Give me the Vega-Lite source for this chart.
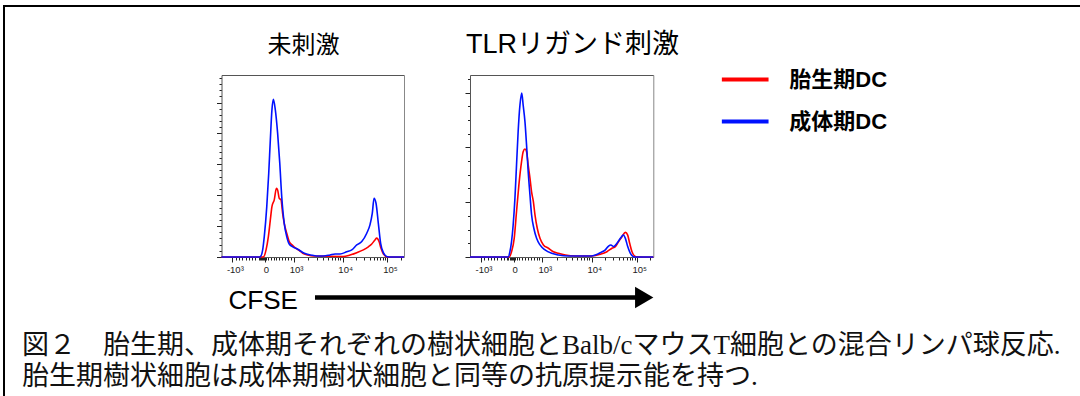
{
  "$schema": "https://vega.github.io/schema/vega-lite/v6.json",
  "width": 1096,
  "height": 416,
  "autosize": "none",
  "padding": {"left": 4, "top": 6, "right": -20, "bottom": -20},
  "background": "white",
  "view": {"stroke": "black", "strokeWidth": 2, "fill": "white"},
  "title": {
    "text": ["図２　胎生期、成体期それぞれの樹状細胞とBalb/cマウスT細胞との混合リンパ球反応.", "胎生期樹状細胞は成体期樹状細胞と同等の抗原提示能を持つ."],
    "orient": "bottom", "anchor": "start", "frame": "group", "offset": -89, "dx": 18,
    "fontSize": 27, "font": "Liberation Serif, Noto Sans CJK JP", "fontWeight": "normal",
    "lineHeight": 31, "color": "#111"
  },
  "datasets": {
    "hist": [
      {"panel":"未刺激","group":"成体期DC","ch":0,"count":0},
      {"panel":"未刺激","group":"成体期DC","ch":212,"count":0},
      {"panel":"未刺激","group":"成体期DC","ch":218,"count":1},
      {"panel":"未刺激","group":"成体期DC","ch":231,"count":23},
      {"panel":"未刺激","group":"成体期DC","ch":240,"count":66},
      {"panel":"未刺激","group":"成体期DC","ch":254,"count":163},
      {"panel":"未刺激","group":"成体期DC","ch":265,"count":271},
      {"panel":"未刺激","group":"成体期DC","ch":274,"count":379},
      {"panel":"未刺激","group":"成体期DC","ch":283,"count":476},
      {"panel":"未刺激","group":"成体期DC","ch":291,"count":510},
      {"panel":"未刺激","group":"成体期DC","ch":302,"count":476},
      {"panel":"未刺激","group":"成体期DC","ch":315,"count":400},
      {"panel":"未刺激","group":"成体期DC","ch":327,"count":303},
      {"panel":"未刺激","group":"成体期DC","ch":338,"count":195},
      {"panel":"未刺激","group":"成体期DC","ch":352,"count":109},
      {"panel":"未刺激","group":"成体期DC","ch":366,"count":66},
      {"panel":"未刺激","group":"成体期DC","ch":380,"count":42},
      {"panel":"未刺激","group":"成体期DC","ch":400,"count":33},
      {"panel":"未刺激","group":"成体期DC","ch":428,"count":25},
      {"panel":"未刺激","group":"成体期DC","ch":465,"count":12},
      {"panel":"未刺激","group":"成体期DC","ch":502,"count":6.5},
      {"panel":"未刺激","group":"成体期DC","ch":534,"count":3.2},
      {"panel":"未刺激","group":"成体期DC","ch":571,"count":3.2},
      {"panel":"未刺激","group":"成体期DC","ch":609,"count":6.5},
      {"panel":"未刺激","group":"成体期DC","ch":637,"count":9.7},
      {"panel":"未刺激","group":"成体期DC","ch":665,"count":9.7},
      {"panel":"未刺激","group":"成体期DC","ch":703,"count":17},
      {"panel":"未刺激","group":"成体期DC","ch":731,"count":23},
      {"panel":"未刺激","group":"成体期DC","ch":759,"count":39},
      {"panel":"未刺激","group":"成体期DC","ch":787,"count":50},
      {"panel":"未刺激","group":"成体期DC","ch":815,"count":77},
      {"panel":"未刺激","group":"成体期DC","ch":833,"count":104},
      {"panel":"未刺激","group":"成体期DC","ch":846,"count":141},
      {"panel":"未刺激","group":"成体期DC","ch":856,"count":190},
      {"panel":"未刺激","group":"成体期DC","ch":867,"count":174},
      {"panel":"未刺激","group":"成体期DC","ch":880,"count":109},
      {"panel":"未刺激","group":"成体期DC","ch":893,"count":44},
      {"panel":"未刺激","group":"成体期DC","ch":908,"count":14},
      {"panel":"未刺激","group":"成体期DC","ch":930,"count":1},
      {"panel":"未刺激","group":"成体期DC","ch":955,"count":0},
      {"panel":"未刺激","group":"成体期DC","ch":1024,"count":0},
      {"panel":"未刺激","group":"胎生期DC","ch":0,"count":0},
      {"panel":"未刺激","group":"胎生期DC","ch":230,"count":0},
      {"panel":"未刺激","group":"胎生期DC","ch":237,"count":1},
      {"panel":"未刺激","group":"胎生期DC","ch":250,"count":23},
      {"panel":"未刺激","group":"胎生期DC","ch":263,"count":66},
      {"panel":"未刺激","group":"胎生期DC","ch":274,"count":120},
      {"panel":"未刺激","group":"胎生期DC","ch":283,"count":163},
      {"panel":"未刺激","group":"胎生期DC","ch":296,"count":185},
      {"panel":"未刺激","group":"胎生期DC","ch":308,"count":222},
      {"panel":"未刺激","group":"胎生期DC","ch":315,"count":217},
      {"panel":"未刺激","group":"胎生期DC","ch":324,"count":190},
      {"panel":"未刺激","group":"胎生期DC","ch":334,"count":185},
      {"panel":"未刺激","group":"胎生期DC","ch":343,"count":141},
      {"panel":"未刺激","group":"胎生期DC","ch":352,"count":109},
      {"panel":"未刺激","group":"胎生期DC","ch":366,"count":77},
      {"panel":"未刺激","group":"胎生期DC","ch":380,"count":50},
      {"panel":"未刺激","group":"胎生期DC","ch":400,"count":37},
      {"panel":"未刺激","group":"胎生期DC","ch":418,"count":28},
      {"panel":"未刺激","group":"胎生期DC","ch":437,"count":21},
      {"panel":"未刺激","group":"胎生期DC","ch":456,"count":12},
      {"panel":"未刺激","group":"胎生期DC","ch":484,"count":6.5},
      {"panel":"未刺激","group":"胎生期DC","ch":515,"count":3.2},
      {"panel":"未刺激","group":"胎生期DC","ch":682,"count":1.6},
      {"panel":"未刺激","group":"胎生期DC","ch":721,"count":6.5},
      {"panel":"未刺激","group":"胎生期DC","ch":759,"count":14},
      {"panel":"未刺激","group":"胎生期DC","ch":796,"count":23},
      {"panel":"未刺激","group":"胎生期DC","ch":824,"count":33},
      {"panel":"未刺激","group":"胎生期DC","ch":843,"count":42},
      {"panel":"未刺激","group":"胎生期DC","ch":861,"count":55},
      {"panel":"未刺激","group":"胎生期DC","ch":871,"count":61},
      {"panel":"未刺激","group":"胎生期DC","ch":884,"count":50},
      {"panel":"未刺激","group":"胎生期DC","ch":895,"count":28},
      {"panel":"未刺激","group":"胎生期DC","ch":908,"count":10},
      {"panel":"未刺激","group":"胎生期DC","ch":930,"count":0},
      {"panel":"未刺激","group":"胎生期DC","ch":1024,"count":0},
      {"panel":"TLRリガンド刺激","group":"成体期DC","ch":0,"count":0},
      {"panel":"TLRリガンド刺激","group":"成体期DC","ch":213,"count":0},
      {"panel":"TLRリガンド刺激","group":"成体期DC","ch":223,"count":9.7},
      {"panel":"TLRリガンド刺激","group":"成体期DC","ch":232,"count":28},
      {"panel":"TLRリガンド刺激","group":"成体期DC","ch":241,"count":58},
      {"panel":"TLRリガンド刺激","group":"成体期DC","ch":251,"count":107},
      {"panel":"TLRリガンド刺激","group":"成体期DC","ch":260,"count":168},
      {"panel":"TLRリガンド刺激","group":"成体期DC","ch":269,"count":229},
      {"panel":"TLRリガンド刺激","group":"成体期DC","ch":279,"count":277},
      {"panel":"TLRリガンド刺激","group":"成体期DC","ch":289,"count":299},
      {"panel":"TLRリガンド刺激","group":"成体期DC","ch":297,"count":277},
      {"panel":"TLRリガンド刺激","group":"成体期DC","ch":307,"count":247},
      {"panel":"TLRリガンド刺激","group":"成体期DC","ch":316,"count":204},
      {"panel":"TLRリガンド刺激","group":"成体期DC","ch":325,"count":156},
      {"panel":"TLRリガンド刺激","group":"成体期DC","ch":335,"count":113},
      {"panel":"TLRリガンド刺激","group":"成体期DC","ch":344,"count":77},
      {"panel":"TLRリガンド刺激","group":"成体期DC","ch":357,"count":52},
      {"panel":"TLRリガンド刺激","group":"成体期DC","ch":372,"count":34},
      {"panel":"TLRリガンド刺激","group":"成体期DC","ch":391,"count":22},
      {"panel":"TLRリガンド刺激","group":"成体期DC","ch":419,"count":13},
      {"panel":"TLRリガンド刺激","group":"成体期DC","ch":456,"count":6.7},
      {"panel":"TLRリガンド刺激","group":"成体期DC","ch":494,"count":3.6},
      {"panel":"TLRリガンド刺激","group":"成体期DC","ch":550,"count":1.8},
      {"panel":"TLRリガンド刺激","group":"成体期DC","ch":679,"count":1.8},
      {"panel":"TLRリガンド刺激","group":"成体期DC","ch":700,"count":3.6},
      {"panel":"TLRリガンド刺激","group":"成体期DC","ch":728,"count":7.8},
      {"panel":"TLRリガンド刺激","group":"成体期DC","ch":756,"count":13},
      {"panel":"TLRリガンド刺激","group":"成体期DC","ch":774,"count":20},
      {"panel":"TLRリガンド刺激","group":"成体期DC","ch":787,"count":22},
      {"panel":"TLRリガンド刺激","group":"成体期DC","ch":802,"count":19},
      {"panel":"TLRリガンド刺激","group":"成体期DC","ch":821,"count":25},
      {"panel":"TLRリガンド刺激","group":"成体期DC","ch":840,"count":34},
      {"panel":"TLRリガンド刺激","group":"成体期DC","ch":857,"count":40},
      {"panel":"TLRリガンド刺激","group":"成体期DC","ch":868,"count":34},
      {"panel":"TLRリガンド刺激","group":"成体期DC","ch":881,"count":19},
      {"panel":"TLRリガンド刺激","group":"成体期DC","ch":896,"count":6.7},
      {"panel":"TLRリガンド刺激","group":"成体期DC","ch":920,"count":0},
      {"panel":"TLRリガンド刺激","group":"成体期DC","ch":1024,"count":0},
      {"panel":"TLRリガンド刺激","group":"胎生期DC","ch":0,"count":0},
      {"panel":"TLRリガンド刺激","group":"胎生期DC","ch":219,"count":0},
      {"panel":"TLRリガンド刺激","group":"胎生期DC","ch":232,"count":9.7},
      {"panel":"TLRリガンド刺激","group":"胎生期DC","ch":247,"count":34},
      {"panel":"TLRリガンド刺激","group":"胎生期DC","ch":260,"count":83},
      {"panel":"TLRリガンド刺激","group":"胎生期DC","ch":273,"count":131},
      {"panel":"TLRリガンド刺激","group":"胎生期DC","ch":288,"count":174},
      {"panel":"TLRリガンド刺激","group":"胎生期DC","ch":297,"count":192},
      {"panel":"TLRリガンド刺激","group":"胎生期DC","ch":307,"count":197},
      {"panel":"TLRリガンド刺激","group":"胎生期DC","ch":316,"count":192},
      {"panel":"TLRリガンド刺激","group":"胎生期DC","ch":325,"count":168},
      {"panel":"TLRリガンド刺激","group":"胎生期DC","ch":335,"count":144},
      {"panel":"TLRリガンド刺激","group":"胎生期DC","ch":344,"count":119},
      {"panel":"TLRリガンド刺激","group":"胎生期DC","ch":354,"count":101},
      {"panel":"TLRリガンド刺激","group":"胎生期DC","ch":363,"count":77},
      {"panel":"TLRリガンド刺激","group":"胎生期DC","ch":376,"count":52},
      {"panel":"TLRリガンド刺激","group":"胎生期DC","ch":391,"count":34},
      {"panel":"TLRリガンド刺激","group":"胎生期DC","ch":410,"count":22},
      {"panel":"TLRリガンド刺激","group":"胎生期DC","ch":438,"count":16},
      {"panel":"TLRリガンド刺激","group":"胎生期DC","ch":466,"count":9.7},
      {"panel":"TLRリガンド刺激","group":"胎生期DC","ch":494,"count":6.7},
      {"panel":"TLRリガンド刺激","group":"胎生期DC","ch":533,"count":3.6},
      {"panel":"TLRリガンド刺激","group":"胎生期DC","ch":589,"count":1.8},
      {"panel":"TLRリガンド刺激","group":"胎生期DC","ch":681,"count":1.8},
      {"panel":"TLRリガンド刺激","group":"胎生期DC","ch":728,"count":4.9},
      {"panel":"TLRリガンド刺激","group":"胎生期DC","ch":765,"count":9.7},
      {"panel":"TLRリガンド刺激","group":"胎生期DC","ch":793,"count":16},
      {"panel":"TLRリガンド刺激","group":"胎生期DC","ch":812,"count":19},
      {"panel":"TLRリガンド刺激","group":"胎生期DC","ch":830,"count":28},
      {"panel":"TLRリガンド刺激","group":"胎生期DC","ch":849,"count":37},
      {"panel":"TLRリガンド刺激","group":"胎生期DC","ch":868,"count":45},
      {"panel":"TLRリガンド刺激","group":"胎生期DC","ch":881,"count":40},
      {"panel":"TLRリガンド刺激","group":"胎生期DC","ch":892,"count":25},
      {"panel":"TLRリガンド刺激","group":"胎生期DC","ch":905,"count":9.7},
      {"panel":"TLRリガンド刺激","group":"胎生期DC","ch":928,"count":0.5},
      {"panel":"TLRリガンド刺激","group":"胎生期DC","ch":1024,"count":0}
    ]
  },
  "data": {"name": "hist"},
  "layer": [
    {
      "layer": [
        {
          "transform": [{"filter": "datum.panel == '未刺激' && datum.group == '胎生期DC'"}],
          "mark": {"type": "line", "strokeWidth": 1.6, "interpolate": "monotone"},
          "encoding": {
            "x": {"field": "ch", "type": "quantitative",
              "scale": {"domain": [0, 1024], "range": [217.5, 400], "nice": false, "zero": false},
              "axis": {"orient": "bottom", "offset": -165,
                "values": [61,79,98,116,135,153,172,190,209,215,221,227,233,238,244,250,260,276,292,308,324,340,356,372,388,404,487,536,570,597,619,637,653,667,680,756,800,831,855,875,892,907,919,931,1007],
                "labelExpr": "datum.value == 61 ? '-10³' : datum.value == 244 ? '0' : datum.value == 404 ? '10³' : datum.value == 680 ? '10⁴' : datum.value == 931 ? '10⁵' : ''",
                "tickSize": {"condition": {"test": "indexof([61,244,404,680,931], datum.value) >= 0", "value": 5}, "value": 3},
                "labelOffset": {"condition": {"test": "datum.value == 244", "value": 1}, "value": 2.5},
                "labelFontSize": 9.5, "labelPadding": 2, "labelColor": "#222", "labelOverlap": false, "labelFlush": false, "labelBound": false,
                "tickColor": "#222", "domainColor": "#555",
                "title": "CFSE", "titleX": 224, "titleY": 51, "titleAlign": "left", "titleBaseline": "alphabetic",
                "titleFontSize": 26, "titleFont": "Liberation Sans", "titleFontWeight": "normal", "titleColor": "black"}},
            "y": {"field": "count", "type": "quantitative",
              "scale": {"domain": [0, 589], "range": [251, 69], "nice": false, "zero": false},
              "axis": {"orient": "left", "offset": -217.5,
                "values": [0,20,40,60,80,100,120,140,160,180,200,220,240,260,280,300,320,340,360,380,400,420,440,460,480,500,520,540,560,580],
                "labels": false, "title": null,
                "tickSize": {"condition": {"test": "datum.value % 100 == 0", "value": 5}, "value": 2.5},
                "tickColor": "#222", "domainColor": "#555"}},
            "color": {"field": "group", "type": "nominal",
              "scale": {"domain": ["胎生期DC", "成体期DC"], "range": ["#ff0000", "#0011ff"]},
              "legend": {"title": null, "rowPadding": 5}}
          }
        },
        {
          "transform": [{"filter": "datum.panel == '未刺激' && datum.group == '成体期DC'"}],
          "mark": {"type": "line", "strokeWidth": 1.6, "interpolate": "monotone"},
          "encoding": {
            "x": {"field": "ch", "type": "quantitative",
              "axis": {"orient": "top", "offset": -69, "ticks": false, "labels": false, "domainColor": "#555",
                "title": "未刺激", "titleX": 299, "titleAlign": "center", "titleFontSize": 24, "titleFont": "Liberation Sans, Noto Sans CJK JP", "titleFontWeight": "normal", "titleColor": "black", "titlePadding": 18}},
            "y": {"field": "count", "type": "quantitative",
              "axis": {"orient": "right", "offset": -696, "ticks": false, "labels": false, "title": null, "domainColor": "#888"}},
            "color": {"field": "group", "type": "nominal", "legend": {"title": null, "rowPadding": 5}}
          }
        },
        {
          "data": {"values": [{}]},
          "mark": {"type": "rule", "strokeWidth": 4.5, "color": "black", "strokeCap": "butt"},
          "encoding": {
            "x": {"datum": 524.6, "type": "quantitative", "axis": null},
            "x2": {"datum": 2331},
            "y": {"datum": -131.1, "type": "quantitative", "axis": null}
          }
        },
        {
          "data": {"values": [{}]},
          "mark": {"type": "point", "shape": "M-0.85,-1L0.85,0L-0.85,1Z", "filled": true, "color": "black", "opacity": 1, "size": 466},
          "encoding": {
            "x": {"datum": 2371.8, "type": "quantitative", "axis": null},
            "y": {"datum": -131.1, "type": "quantitative", "axis": null}
          }
        }
      ],
      "resolve": {"axis": {"x": "independent", "y": "independent"}}
    },
    {
      "layer": [
        {
          "transform": [{"filter": "datum.panel == 'TLRリガンド刺激' && datum.group == '胎生期DC'"}],
          "mark": {"type": "line", "strokeWidth": 1.6, "interpolate": "monotone"},
          "encoding": {
            "x": {"field": "ch", "type": "quantitative",
              "scale": {"domain": [0, 1024], "range": [466, 649.3], "nice": false, "zero": false},
              "axis": {"orient": "bottom", "offset": -165,
                "values": [61,79,98,116,135,153,172,190,209,215,221,227,233,238,244,250,260,276,292,308,324,340,356,372,388,404,487,536,570,597,619,637,653,667,680,756,800,831,855,875,892,907,919,931,1007],
                "labelExpr": "datum.value == 61 ? '-10³' : datum.value == 244 ? '0' : datum.value == 404 ? '10³' : datum.value == 680 ? '10⁴' : datum.value == 931 ? '10⁵' : ''",
                "tickSize": {"condition": {"test": "indexof([61,244,404,680,931], datum.value) >= 0", "value": 5}, "value": 3},
                "labelOffset": {"condition": {"test": "datum.value == 244", "value": 1}, "value": 2.5},
                "labelFontSize": 9.5, "labelPadding": 2, "labelColor": "#222", "labelOverlap": false, "labelFlush": false, "labelBound": false,
                "tickColor": "#222", "domainColor": "#555", "title": null}},
            "y": {"field": "count", "type": "quantitative",
              "scale": {"domain": [0, 332], "range": [251, 69], "nice": false, "zero": false},
              "axis": {"orient": "left", "offset": -466,
                "values": [0,25,50,75,100,125,150,175,200,225,250,275,300,325],
                "labels": false, "title": null,
                "tickSize": {"condition": {"test": "datum.value % 100 == 0", "value": 5}, "value": 2.5},
                "tickColor": "#222", "domainColor": "#555"}},
            "color": {"field": "group", "type": "nominal", "legend": {"title": null, "rowPadding": 5}}
          }
        },
        {
          "transform": [{"filter": "datum.panel == 'TLRリガンド刺激' && datum.group == '成体期DC'"}],
          "mark": {"type": "line", "strokeWidth": 1.6, "interpolate": "monotone"},
          "encoding": {
            "x": {"field": "ch", "type": "quantitative",
              "axis": {"orient": "top", "offset": -69, "ticks": false, "labels": false, "domainColor": "#555",
                "title": "TLRリガンド刺激", "titleX": 568, "titleAlign": "center", "titleFontSize": 27, "titleFont": "Liberation Sans, Noto Sans CJK JP", "titleFontWeight": "normal", "titleColor": "black", "titlePadding": 17}},
            "y": {"field": "count", "type": "quantitative",
              "axis": {"orient": "right", "offset": -446.7, "ticks": false, "labels": false, "title": null, "domainColor": "#888"}},
            "color": {"field": "group", "type": "nominal", "legend": {"title": null, "rowPadding": 5}}
          }
        }
      ],
      "resolve": {"axis": {"x": "independent", "y": "independent"}}
    }
  ],
  "resolve": {"scale": {"x": "independent", "y": "independent"}},
  "config": {
    "axis": {"grid": false, "labelFont": "Liberation Sans", "tickWidth": 1, "domainWidth": 1},
    "legend": {
      "orient": "none", "legendX": 715.7, "legendY": 48, "padding": 0,
      "symbolType": "stroke", "symbolSize": 2180, "symbolStrokeWidth": 4,
      "labelFontSize": 22, "labelFontWeight": "bold", "labelFont": "Liberation Sans, Noto Sans CJK JP",
      "labelColor": "black", "labelOffset": 18.6, "rowPadding": 5, "labelLimit": 300
    }
  }
}
